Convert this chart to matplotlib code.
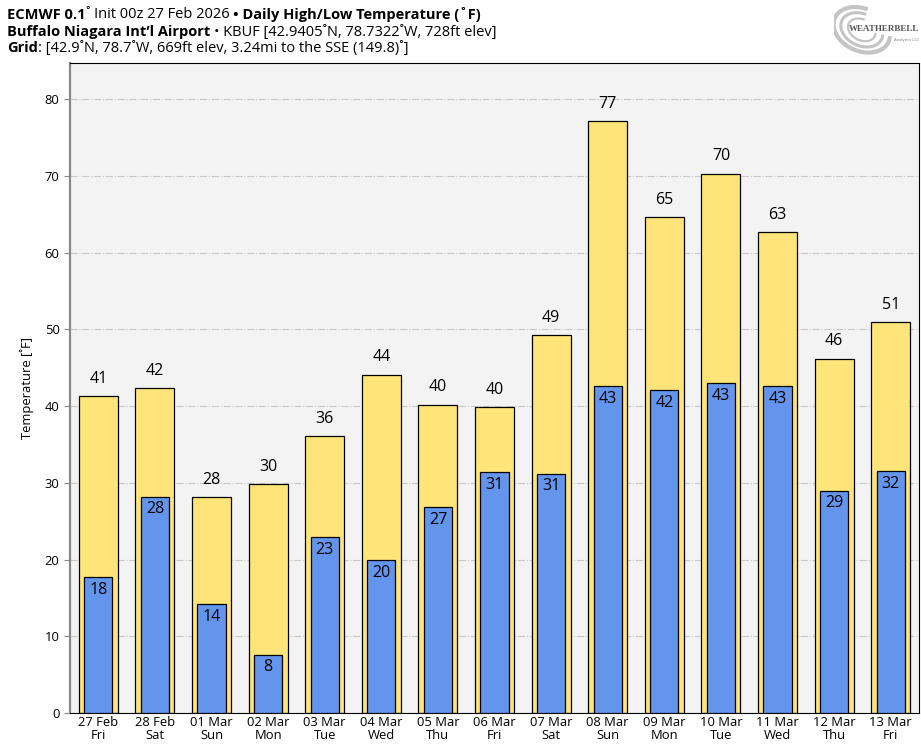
import numpy as np
import matplotlib
matplotlib.use("Agg")
from matplotlib import pyplot as plt
from matplotlib.patches import Arc

plt.rcParams['font.family'] = ['Open Sans', 'DejaVu Sans']

dates = ['27 Feb', '28 Feb', '01 Mar', '02 Mar', '03 Mar', '04 Mar', '05 Mar', '06 Mar',
         '07 Mar', '08 Mar', '09 Mar', '10 Mar', '11 Mar', '12 Mar', '13 Mar']
days = ['Fri', 'Sat', 'Sun', 'Mon', 'Tue', 'Wed', 'Thu', 'Fri',
        'Sat', 'Sun', 'Mon', 'Tue', 'Wed', 'Thu', 'Fri']
highs = [41.3, 42.3, 28.1, 29.8, 36.1, 44.1, 40.2, 39.9, 49.3, 77.1, 64.6, 70.3, 62.7, 46.2, 50.9]
lows = [17.7, 28.2, 14.2, 7.6, 22.9, 19.9, 26.8, 31.4, 31.2, 42.6, 42.1, 43.0, 42.6, 29.0, 31.5]

fig = plt.figure(figsize=(9.21, 7.46), dpi=100)
ax = fig.add_axes([0.076, 0.044, 0.9218, 0.8715])
ax.set_facecolor('#f3f3f3')

x = np.arange(len(highs))
ax.bar(x, highs, width=0.69, color='#ffe47a', edgecolor='black', linewidth=0.9, zorder=2)
ax.bar(x, lows, width=0.5, color='#6495ed', edgecolor='black', linewidth=0.9, zorder=3)

for i in range(len(highs)):
    ax.text(x[i], highs[i] + 1.2, '%d' % round(highs[i]), ha='center', va='bottom', fontsize=11.5, zorder=4)
    ax.text(x[i], lows[i] - 0.6, '%d' % round(lows[i]), ha='center', va='top', fontsize=11.5, zorder=4)

ax.set_xlim(-0.5, 14.5)
ax.set_ylim(0, 84.7)
ax.set_yticks(range(0, 81, 10))
ax.set_xticks(x)
ax.set_xticklabels([d + '\n' + w for d, w in zip(dates, days)], fontsize=9.4, linespacing=1.05)
ax.tick_params(axis='y', labelsize=9.4, color='#888888', length=4)
ax.tick_params(axis='x', length=0, pad=2)
ax.set_ylabel('Temperature [\u02daF]', fontsize=9.4, labelpad=8)
ax.grid(axis='y', color='#c8c8c8', linestyle='-.', linewidth=0.8, zorder=0)
ax.set_axisbelow(True)
ax.spines['left'].set_color('#888888')
ax.spines['left'].set_linewidth(1.6)

# header lines, bold and normal pieces side by side
lines = [
    [('ECMWF 0.1', 'bold'), ('\u02da Init 00z 27 Feb 2026 ', 'normal'), ('\u2022 Daily High/Low Temperature (\u02daF)', 'bold')],
    [('Buffalo Niagara Int\u2019l Airport ', 'bold'), ('\u2022 KBUF [42.9405\u02daN, 78.7322\u02daW, 728ft elev]', 'normal')],
    [('Grid', 'bold'), (': [42.9\u02daN, 78.7\u02daW, 669ft elev, 3.24mi to the SSE (149.8)\u02da]', 'normal')],
]
fig.canvas.draw()
r = fig.canvas.get_renderer()
ys = [0.980, 0.957, 0.935]
for line, y in zip(lines, ys):
    xpos = 7 / 921
    for txt, wt in line:
        t = fig.text(xpos, y, txt, fontsize=10.5, fontweight=wt, va='center', ha='left')
        bb = t.get_window_extent(renderer=r)
        xpos += bb.width / fig.bbox.width

# logo stand-in
lax = fig.add_axes([0.905, 0.925, 0.093, 0.07])
lax.set_xlim(0, 1)
lax.set_ylim(0, 1)
lax.axis('off')
for w, h, lw in [(0.62, 0.9, 3), (0.46, 0.68, 2.2), (0.3, 0.45, 1.6)]:
    lax.add_patch(Arc((0.33, 0.5), w, h, angle=20, theta1=60, theta2=320, color='#c4c4c4', lw=lw))
lax.text(1.0, 0.52, 'WEATHERBELL', fontsize=6.5, color='#555555', fontweight='bold',
         ha='right', va='center', family='Liberation Serif')
lax.text(1.0, 0.3, 'Analytics LLC', fontsize=3, color='#777777', ha='right', va='center')

fig.savefig('out.png', dpi=100)
